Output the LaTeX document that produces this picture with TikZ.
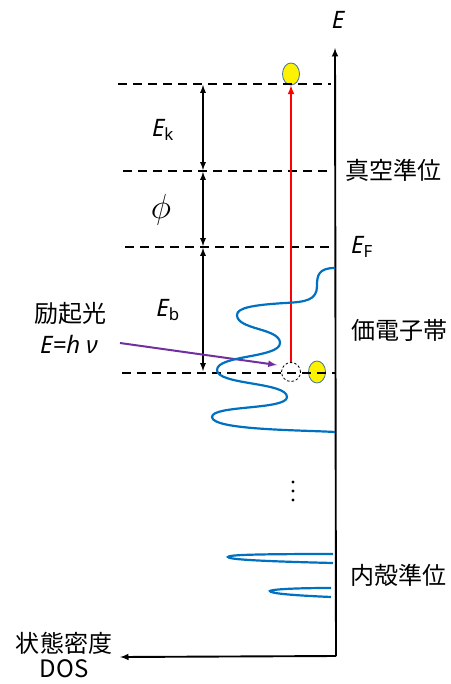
\documentclass[tikz,border=0pt]{standalone}
\usepackage{fontspec}
\setmainfont{Noto Sans}
\newfontfamily\jpfont{Noto Sans CJK JP}
\usetikzlibrary{shapes.geometric}

\definecolor{dosblue}{RGB}{0,112,192}
\definecolor{photon}{RGB}{112,48,160}
\definecolor{elecedge}{RGB}{65,113,156}

\tikzset{
	axis/.style={-latex, line width=1.9pt},
	level/.style={dash pattern=on 9pt off 6pt, line width=1.8pt},
	gap/.style={latex-latex, line width=1.7pt},
	dos/.style={color=dosblue, line width=2.2pt},
	electron/.style={ellipse, draw=elecedge, fill=yellow, line width=0.8pt, minimum width=17pt, minimum height=22pt, inner sep=0pt},
	hole/.style={circle, draw, dash pattern=on 2.5pt off 2pt, line width=0.8pt, minimum size=19pt, inner sep=0pt},
	lbl/.style={inner sep=0pt, font=\fontsize{24}{28}\selectfont},
	jlbl/.style={inner sep=0pt, font=\fontsize{24}{28}\selectfont\jpfont, align=center},
}

\begin{document}
\begin{tikzpicture}[x=1pt, y=-1pt]
	\useasboundingbox (0,0) rectangle (450,684);
	% axes
	\coordinate (O) at (336,656);
	\coordinate (Etip) at (335,48);
	\coordinate (Dtip) at (120,657);
	\draw[axis] (O) -- (Etip);
	\draw[axis] (O) -- (Dtip);
	\node[lbl] (Elbl) at (338,20) {\itshape E};
	\node[jlbl] (doslbl) at (64,655) {状態密度\\[-3pt]DOS};

	% electrons
	\node[electron] (top) at (291,74) {};
	\node[electron] (val) at (317,372) {};
	\node[hole] (hole) at (291,372) {};

	% energy levels
	\foreach \n/\y/\xa/\xb in {kin/84/118/331, vac/171/123/331, fermi/247/125/335, bind/373/122/335} {
		\coordinate (\n L) at (\xa,\y);
		\coordinate (\n R) at (\xb,\y);
		\coordinate (\n M) at (203,\y);
	}
	\foreach \n in {kin,vac,fermi,bind}
		\draw[level] (\n L) -- (\n R);
	\draw[gap, shorten <=1pt, shorten >=1pt] (kinM) -- (vacM);
	\draw[gap, shorten <=1pt, shorten >=1pt] (vacM) -- (fermiM);
	\draw[gap, shorten <=1pt, shorten >=2pt] (fermiM) -- (bindM);
	\node[lbl] (Ek) at (163,130) {\itshape E\textsubscript{\upshape k}};
	\node[lbl] (phi) at (161,210) {\scalebox{1.4}{$\phi$}};
	\node[lbl] (Eb) at (168,310) {\itshape E\textsubscript{\upshape b}};
	\node[jlbl] (vaclbl) at (393,170) {真空準位};
	\node[lbl] (EF) at (362,247) {\itshape E\textsubscript{\upshape F}};

	% photoemission
	\draw[-latex, red, line width=2pt] (hole) -- (top);
	\coordinate (hvS) at (120,343);
	\coordinate (hvE) at (277,365);
	\draw[-latex, photon, line width=2pt] (hvS) -- (hvE);
	\node[jlbl] (exc) at (70,313) {励起光};
	\node[lbl] (hnu) at (69,344) {\itshape E=h ν};

	% density of states
	\draw[dos] (335,268) .. controls (318,268) and (317,276) .. (317,286)
		.. controls (317,300) and (306,302) .. (285,303)
		.. controls (252,305) and (237,308) .. (237,315)
		.. controls (237,330) and (280,328) .. (280,343)
		.. controls (280,358) and (217,355) .. (217,370)
		.. controls (217,385) and (287,382) .. (287,397)
		.. controls (287,410) and (212,405) .. (212,417)
		.. controls (212,430) and (300,430) .. (335,432);
	\node[jlbl] (vallbl) at (399,330) {価電子帯};
	\foreach \y in {482,491,500}
		\fill (293,\y) circle (1.7pt);
	\draw[dos] (333,554) .. controls (250,554) and (228,555) .. (228,557)
		.. controls (228,559) and (250,561) .. (333,563);
	\draw[dos] (331,588) .. controls (285,588) and (270,590) .. (270,591)
		.. controls (270,593) and (285,595) .. (331,597);
	\node[jlbl] (corelbl) at (398,575) {内殻準位};
\end{tikzpicture}
\end{document}
